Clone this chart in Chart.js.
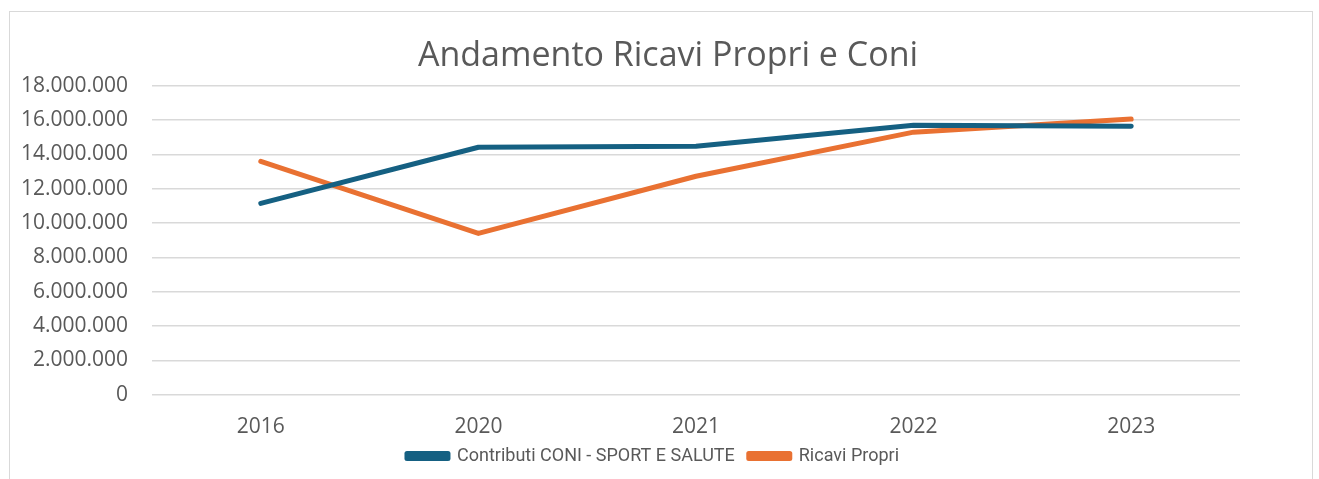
<!DOCTYPE html>
<html>
<head>
<meta charset="utf-8">
<script src="https://cdn.jsdelivr.net/npm/chart.js@4"></script>
<style>
  body { margin: 0; background: #fff; }
  #frame { position: absolute; left: 9px; top: 11px; width: 1302px; height: 480px; border: 1px solid #d9d9d9; }
  #wrap { position: absolute; left: 0; top: 0; width: 1319px; height: 479px; }
</style>
</head>
<body>
<div id="frame"></div>
<div id="wrap"><canvas id="myChart" width="1319" height="479"></canvas></div>
<script>
// chart data
const years = ['2016', '2020', '2021', '2022', '2023'];
const contributiConi = [11150000, 14420000, 14480000, 15700000, 15650000];
const ricaviPropri = [13600000, 9400000, 12730000, 15300000, 16060000];
const yTicks = [0, 2000000, 4000000, 6000000, 8000000, 10000000, 12000000, 14000000, 16000000, 18000000];

const textColor = '#595959';
const gridColor = '#d9d9d9';

function formatIt(v) {
  return String(v).replace(/\B(?=(\d{3})+(?!\d))/g, '.');
}

// centre title on the frame and put the legend just under the axis labels
const placeBoxes = {
  id: 'placeBoxes',
  afterLayout(chart) {
    chart.titleBlock.left = 96;
    const lg = chart.legend;
    lg.left = 66;
    lg.top = 433;
    lg.bottom = 479;
  }
};

const config = {
  type: 'line',
  data: {
    labels: years,
    datasets: [{
      label: 'Contributi CONI - SPORT E SALUTE',
      data: contributiConi,
      borderColor: '#156082',
      backgroundColor: '#156082',
      borderWidth: 5,
      pointRadius: 0,
      borderCapStyle: 'round',
      borderJoinStyle: 'round',
      tension: 0
    }, {
      label: 'Ricavi Propri',
      data: ricaviPropri,
      borderColor: '#e97132',
      backgroundColor: '#e97132',
      borderWidth: 5,
      pointRadius: 0,
      borderCapStyle: 'round',
      borderJoinStyle: 'round',
      tension: 0
    }]
  },
  options: {
    responsive: false,
    animation: false,
    layout: {
      padding: { left: 0, right: 79, top: 22, bottom: 18 }
    },
    plugins: {
      title: {
        display: true,
        text: 'Andamento Ricavi Propri e Coni',
        color: textColor,
        font: { family: 'Open Sans', size: 34, weight: 'normal' },
        padding: { top: 14, bottom: 9 }
      },
      legend: {
        position: 'bottom',
        maxHeight: 1,
        labels: {
          color: textColor,
          boxWidth: 41,
          boxHeight: 5,
          padding: 14,
          font: { family: 'Roboto', size: 18, lineHeight: 1 }
        }
      },
      tooltip: { enabled: false }
    },
    scales: {
      x: {
        offset: true,
        grid: { display: false, drawTicks: false },
        border: { display: false },
        ticks: {
          color: textColor,
          padding: 20,
          font: { family: 'Open Sans', size: 21 }
        }
      },
      y: {
        min: 0,
        max: 18000000,
        border: { display: false },
        grid: { color: gridColor, lineWidth: 1.5, drawTicks: false },
        afterFit: function(scale) { scale.width = 152; },
        afterBuildTicks: function(scale) {
          scale.ticks = yTicks.map(function(v) { return { value: v }; });
        },
        ticks: {
          color: textColor,
          padding: 24,
          font: { family: 'Open Sans', size: 21 },
          callback: function(value) { return formatIt(value); }
        }
      }
    }
  },
  plugins: [placeBoxes]
};

new Chart(document.getElementById('myChart').getContext('2d'), config);
</script>
</body>
</html>
